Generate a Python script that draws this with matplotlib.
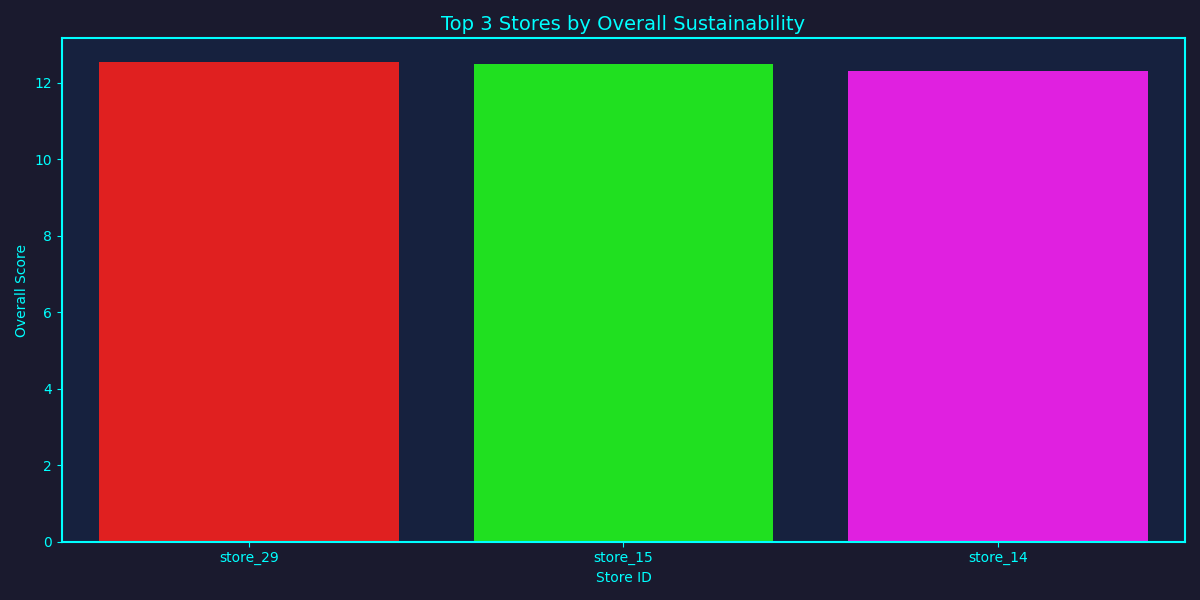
import matplotlib
matplotlib.use("Agg")
import matplotlib.pyplot as plt

stores = ["store_29", "store_15", "store_14"]
scores = [12.53, 12.48, 12.29]
colors = ["#e02020", "#20e020", "#e020e0"]

fig, ax = plt.subplots(figsize=(12, 6), dpi=100)
fig.patch.set_facecolor("#1a1a2e")
ax.set_facecolor("#16213e")
ax.bar(stores, scores, color=colors)
ax.set_xlim(-0.5, len(stores) - 0.5)
ax.set_title("Top 3 Stores by Overall Sustainability", color="#00ffff", fontsize=14)
ax.set_xlabel("Store ID", color="#00ffff")
ax.set_ylabel("Overall Score", color="#00ffff")
ax.tick_params(colors="#00ffff")
for s in ax.spines.values():
    s.set_color("#00ffff")
    s.set_linewidth(1.5)
fig.tight_layout()
fig.savefig("out.png", facecolor=fig.get_facecolor())
